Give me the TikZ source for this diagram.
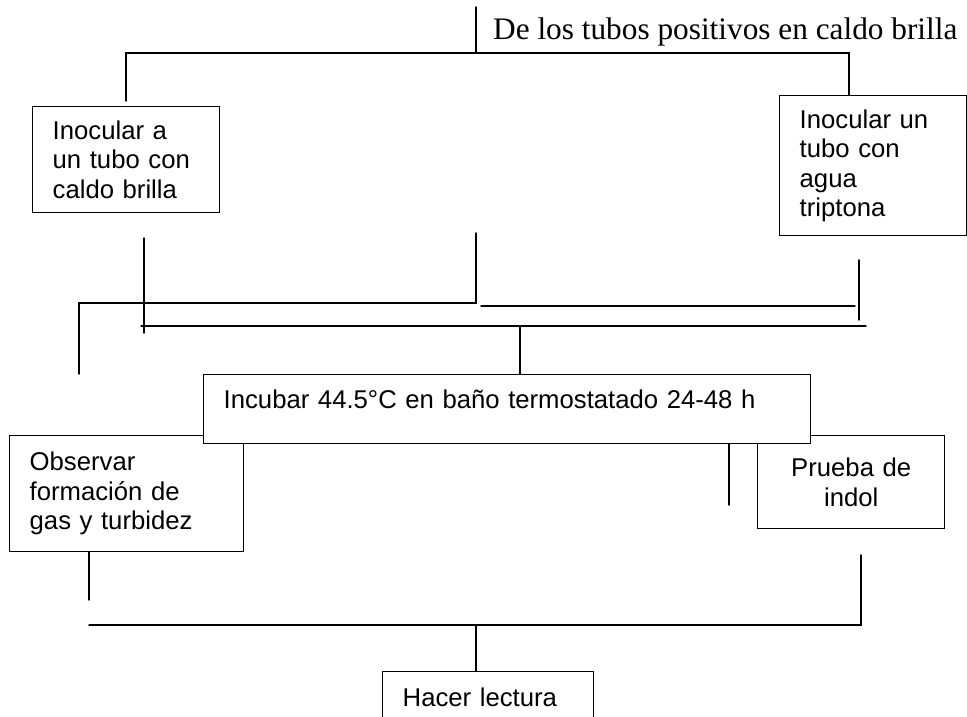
\documentclass[tikz,border=0pt]{standalone}
\usepackage{fontspec}
\setmainfont{Liberation Sans}
\newfontfamily\titlefont{Liberation Serif}
\usepackage{tkz-euclide}
\usepackage{tikz}

\begin{document}
\begin{tikzpicture}[x=1pt,y=-1pt,
    caja/.style={draw,line width=1.4pt,fill=white,inner xsep=20pt,inner ysep=0pt,
      anchor=north west,align=left,font=\fontsize{25.7}{29.5}\selectfont}]
    \useasboundingbox (0,0) rectangle (967,717);
    \node[anchor=base west,inner sep=0pt,
      font=\titlefont\fontsize{31.3}{36}\selectfont] (titulo) at (493,40)
      {De los tubos positivos en caldo brilla};
    \node[caja,text width=147pt,minimum height=106pt] (inocA) at (32,106)
      {Inocular a\\un tubo con\\caldo brilla};
    \node[caja,text width=147pt,minimum height=140pt] (inocB) at (779,95)
      {Inocular un\\tubo con\\agua\\triptona};
    \node[caja,text width=194pt,minimum height=116pt] (observar) at (9,435)
      {Observar\\formación de\\gas y turbidez};
    \node[caja,text width=147pt,minimum height=93pt,align=center] (prueba) at (757,435)
      {Prueba de\\indol};
    \node[caja,text width=567pt,text height=34pt,text depth=35pt] (incubar) at (203,374)
      {Incubar 44.5°C en baño termostatado 24-48 h};
    \node[caja,text width=171pt,text height=35pt,text depth=40pt] (hacer) at (382,671)
      {Hacer lectura};
    % arriba
    \tkzDefPoint(476,7){T}
    \tkzDefPoint(476,53){U}
    \tkzDefPoint(126,101){L1}
    \tkzDefPoint(126,53){L2}
    \tkzDefPoint(849,53){R1}
    \coordinate (R2) at (inocB.north -| R1);
    % medio
    \tkzDefPoint(144,238){A1}
    \tkzDefPoint(144,333){A2}
    \tkzDefPoint(476,233){B1}
    \tkzDefPoint(476,303){B2}
    \tkzDefPoint(79,303){B3}
    \tkzDefPoint(79,374){B4}
    \tkzDefPoint(481,306){C1}
    \tkzDefPoint(855,306){C2}
    \tkzDefPoint(859,260){E1}
    \tkzDefPoint(859,320){E2}
    \tkzDefPoint(141,326){H1}
    \tkzDefPoint(866,326){H2}
    \tkzDefPoint(520,326){D1}
    \coordinate (D2) at (incubar.north -| D1);
    \tkzDefPoint(729,505){G2}
    \coordinate (G1) at (incubar.south -| G2);
    % abajo
    \tkzDefPoint(89,600){F2}
    \coordinate (F1) at (observar.south -| F2);
    \tkzDefPoint(89,625){K1}
    \tkzDefPoint(861,625){K2}
    \tkzDefPoint(861,555){K3}
    \tkzDefPoint(476,625){M1}
    \coordinate (M2) at (hacer.north -| M1);
    \tkzDrawSegments[line width=1.4pt](T,U A1,A2 C1,C2 E1,E2 H1,H2 D1,D2 G1,G2 F1,F2 M1,M2)
    \tkzDrawPolySeg[line width=1.4pt](L1,L2,R1,R2)
    \tkzDrawPolySeg[line width=1.4pt](B1,B2,B3,B4)
    \tkzDrawPolySeg[line width=1.4pt](K1,K2,K3)
\end{tikzpicture}
\end{document}
